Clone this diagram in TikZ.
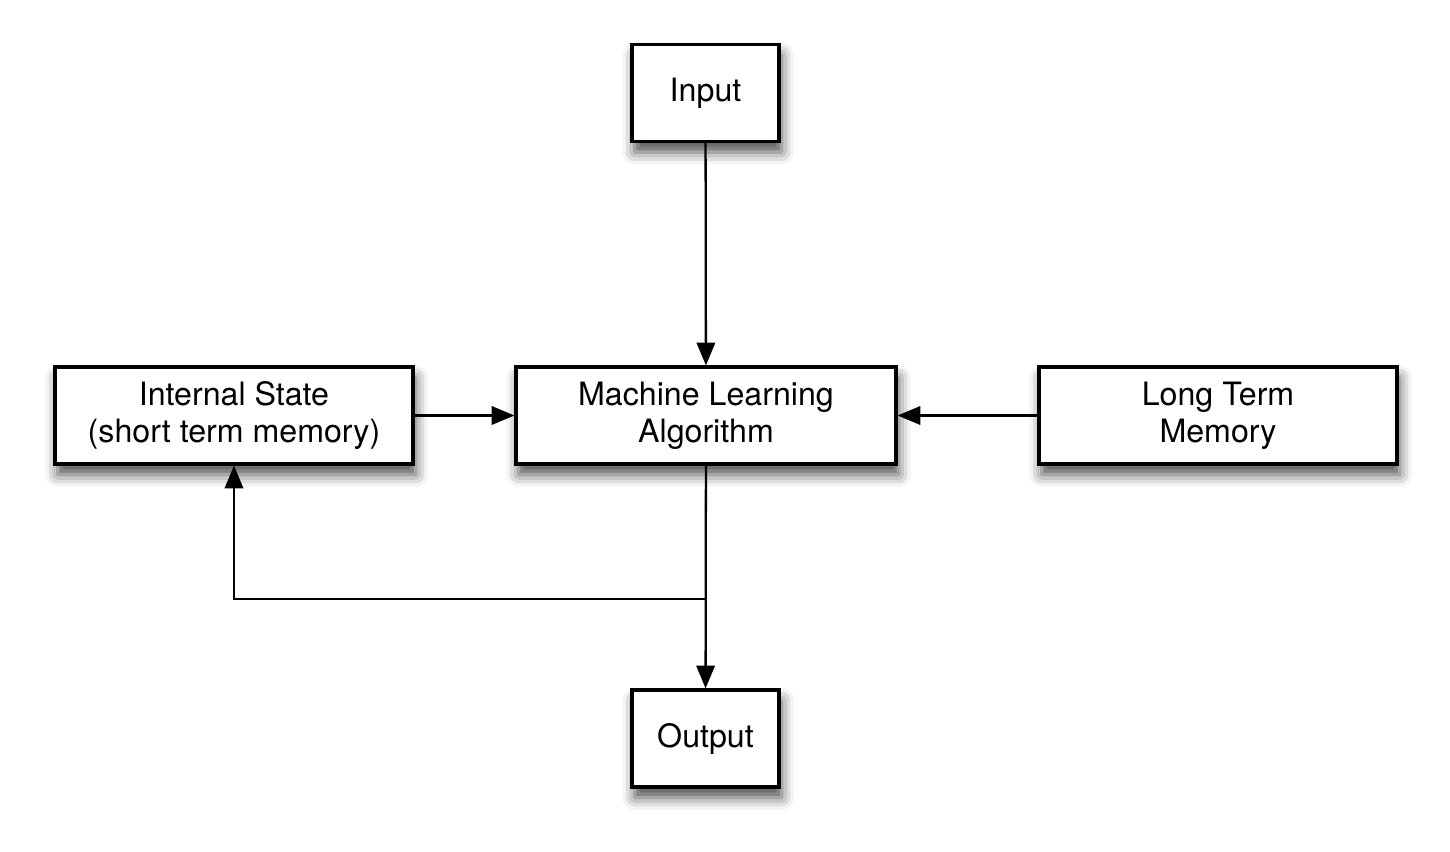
\documentclass[tikz,border=0pt]{standalone}
\usepackage{fontspec}
\setmainfont{TeX Gyre Heros}
\usepackage{tikz}
\usetikzlibrary{arrows.meta,shadows.blur}
\usepackage{xcolor}
\definecolor{BoxLine}{HTML}{000000}
\definecolor{BoxFill}{HTML}{FFFFFF}

\begin{document}
\begin{tikzpicture}[>={Triangle[length=13pt,width=10.5pt]},
  block/.style={draw=BoxLine,fill=BoxFill,line width=1.8pt,align=center,
    minimum height=1.94cm,inner sep=0pt,font=\fontsize{18.3}{21}\selectfont,
    blur shadow={shadow xshift=1.5pt,shadow yshift=-6pt,shadow blur radius=7pt,shadow opacity=70}},
  link/.style={->,line width=1.3pt}]
  \useasboundingbox (0,0) rectangle (29,-17.04);
  \node[block,minimum width=2.94cm] (input) at (14.11,-1.86) {Input};
  \node[block,minimum width=7.6cm] (mla) at (14.12,-8.31) {Machine Learning\\Algorithm};
  \node[block,minimum width=7.16cm] (state) at (4.68,-8.31) {Internal State\\(short term memory)};
  \node[block,minimum width=7.16cm] (ltm) at (24.36,-8.31) {Long Term\\Memory};
  \node[block,minimum width=2.94cm] (output) at (14.11,-14.77) {Output};
  \coordinate (split) at (14.12,-11.98);
  \draw[link] (input) -- (mla);
  \draw[link] (state) -- (mla);
  \draw[link] (ltm) -- (mla);
  \draw[link] (mla) -- (output);
  \draw[link] (split) -| (state.south);
\end{tikzpicture}
\end{document}
